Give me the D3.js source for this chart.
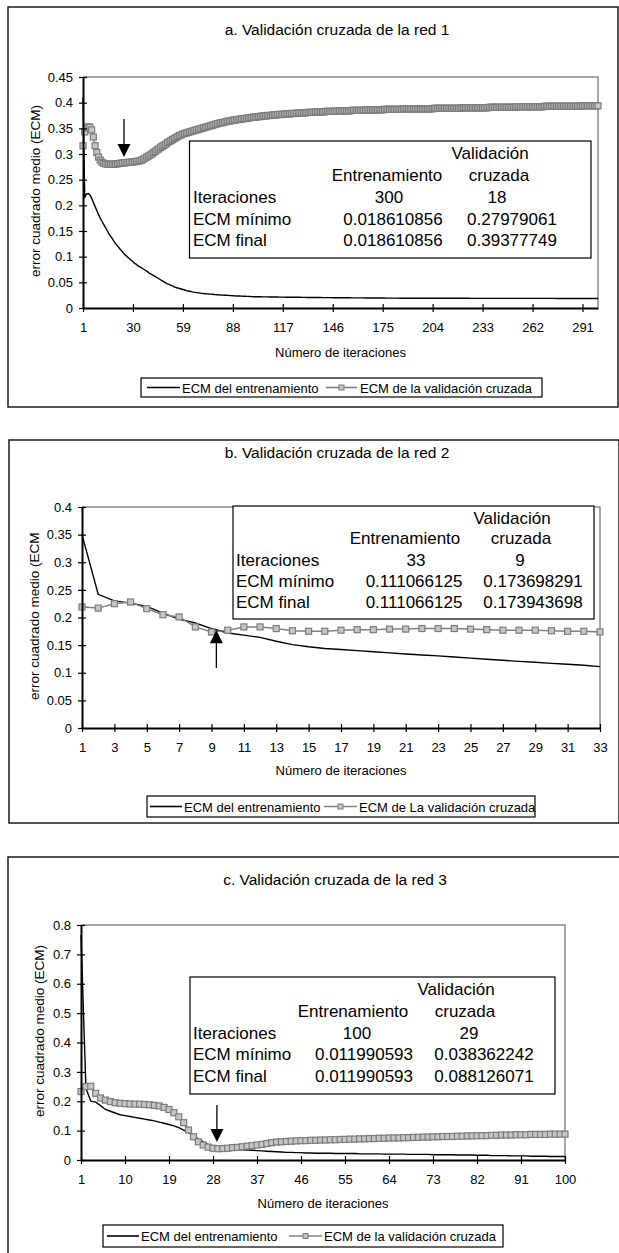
<!DOCTYPE html>
<html><head><meta charset="utf-8">
<script src="https://cdn.jsdelivr.net/npm/d3@7"></script>
<style>body{margin:0;background:#fff}svg{display:block}text{font-family:"Liberation Sans",Arial,sans-serif;fill:#000}</style>
</head><body><svg id="c" width="619" height="1253"></svg>
<script>
// ---------------- DATA ----------------
const legendTrain = "ECM del entrenamiento";
const legendValA = "ECM de la validación cruzada";
const legendValB = "ECM de La validación cruzada";
const yTitle = "error cuadrado medio (ECM)";
const xTitle = "Número de iteraciones";
const titles = ["a. Validación cruzada de la red 1", "b. Validación cruzada de la red 2", "c. Validación cruzada de la red 3"];
const rowLabels = ["Iteraciones", "ECM mínimo", "ECM final"];
const colHead1 = ["", "Validación"];
const colHead2 = ["Entrenamiento", "cruzada"];
const tableA = [["300", "18"], ["0.018610856", "0.27979061"], ["0.018610856", "0.39377749"]];
const tableB = [["33", "9"], ["0.111066125", "0.173698291"], ["0.111066125", "0.173943698"]];
const tableC = [["100", "29"], ["0.011990593", "0.038362242"], ["0.011990593", "0.088126071"]];

const yTicksA = [0, 0.05, 0.1, 0.15, 0.2, 0.25, 0.3, 0.35, 0.4, 0.45];
const xTicksA = [1, 30, 59, 88, 117, 146, 175, 204, 233, 262, 291];
const yTicksB = [0, 0.05, 0.1, 0.15, 0.2, 0.25, 0.3, 0.35, 0.4];
const xTicksB = [1, 3, 5, 7, 9, 11, 13, 15, 17, 19, 21, 23, 25, 27, 29, 31, 33];
const yTicksC = [0, 0.1, 0.2, 0.3, 0.4, 0.5, 0.6, 0.7, 0.8];
const xTicksC = [1, 10, 19, 28, 37, 46, 55, 64, 73, 82, 91, 100];

const trainA = [
0.410,0.215,0.222,0.223,0.220,0.214,0.206,0.198,0.190,0.182,
0.175,0.169,0.163,0.157,0.151,0.145,0.140,0.135,0.130,0.125,
0.121,0.117,0.113,0.109,0.105,0.102,0.099,0.096,0.093,0.090,
0.087,0.085,0.082,0.080,0.078,0.076,0.074,0.072,0.069,0.067,
0.065,0.063,0.061,0.059,0.057,0.055,0.053,0.051,0.049,0.047,
0.046,0.044,0.043,0.041,0.040,0.039,0.038,0.037,0.036,0.035,
0.034,0.033,0.0325,0.032,0.031,0.0305,0.030,0.0295,0.029,0.0285,
0.028,0.0278,0.0275,0.0272,0.027,0.0267,0.0264,0.0261,0.0258,0.0255,
0.0253,0.0251,0.0249,0.0247,0.0245,0.0243,0.0241,0.0239,0.0237,0.0235,
0.0234,0.0233,0.0231,0.0230,0.0229,0.0227,0.0226,0.0224,0.0222,0.0220,
0.0219,0.0219,0.0218,0.0218,0.0217,0.0217,0.0216,0.0216,0.0215,0.0215,
0.0214,0.0214,0.0213,0.0213,0.0212,0.0212,0.0211,0.0211,0.0210,0.0210,
0.0210,0.0209,0.0209,0.0209,0.0208,0.0208,0.0208,0.0207,0.0207,0.0207,
0.0206,0.0206,0.0206,0.0205,0.0205,0.0205,0.0204,0.0204,0.0204,0.0203,
0.0203,0.0203,0.0202,0.0202,0.0202,0.0201,0.0201,0.0201,0.0200,0.0200,
0.0200,0.0200,0.0199,0.0199,0.0199,0.0199,0.0198,0.0198,0.0198,0.0198,
0.0197,0.0197,0.0197,0.0197,0.0196,0.0196,0.0196,0.0196,0.0195,0.0195,
0.0195,0.0195,0.0194,0.0194,0.0194,0.0194,0.0193,0.0193,0.0193,0.0193,
0.0192,0.0192,0.0192,0.0192,0.0191,0.0191,0.0191,0.0191,0.0191,0.0190,
0.0190,0.0190,0.0190,0.0190,0.0190,0.0190,0.0190,0.0190,0.0190,0.0190,
0.0189,0.0189,0.0189,0.0189,0.0189,0.0189,0.0189,0.0189,0.0189,0.0189,
0.0189,0.0189,0.0189,0.0189,0.0189,0.0189,0.0189,0.0189,0.0189,0.0189,
0.0189,0.0189,0.0189,0.0189,0.0189,0.0188,0.0188,0.0188,0.0188,0.0188,
0.0188,0.0188,0.0188,0.0188,0.0188,0.0188,0.0188,0.0188,0.0188,0.0188,
0.0188,0.0188,0.0188,0.0188,0.0188,0.0188,0.0188,0.0188,0.0188,0.0188,
0.0187,0.0187,0.0187,0.0187,0.0187,0.0187,0.0187,0.0187,0.0187,0.0187,
0.0187,0.0187,0.0187,0.0187,0.0187,0.0187,0.0187,0.0187,0.0187,0.0187,
0.0187,0.0187,0.0187,0.0187,0.0187,0.0186,0.0186,0.0186,0.0186,0.0186,
0.0186,0.0186,0.0186,0.0186,0.0186,0.0186,0.0186,0.0186,0.0186,0.0186,
0.0186,0.0186,0.0186,0.0186,0.0186,0.0186,0.0186,0.0186,0.0186,0.0186];

const valA = [
0.316,0.343,0.351,0.353,0.352,0.347,0.333,0.316,0.303,0.294,
0.288,0.284,0.282,0.281,0.280,0.280,0.280,0.2798,0.280,0.2805,
0.281,0.2815,0.282,0.2825,0.283,0.283,0.2835,0.284,0.284,0.2845,
0.285,0.2855,0.286,0.287,0.288,0.290,0.292,0.294,0.296,0.298,
0.300,0.303,0.305,0.308,0.310,0.313,0.315,0.317,0.319,0.322,
0.324,0.326,0.328,0.330,0.332,0.334,0.336,0.337,0.339,0.340,
0.341,0.342,0.343,0.344,0.345,0.346,0.347,0.348,0.349,0.350,
0.351,0.352,0.353,0.354,0.355,0.356,0.357,0.358,0.359,0.360,
0.361,0.361,0.362,0.363,0.364,0.364,0.365,0.366,0.366,0.367,
0.367,0.368,0.368,0.369,0.369,0.370,0.370,0.371,0.371,0.372,
0.372,0.372,0.373,0.373,0.374,0.374,0.374,0.375,0.375,0.375,
0.376,0.376,0.376,0.377,0.377,0.377,0.377,0.378,0.378,0.378,
0.378,0.379,0.379,0.379,0.379,0.380,0.380,0.380,0.380,0.380,
0.381,0.381,0.381,0.381,0.381,0.382,0.382,0.382,0.382,0.382,
0.382,0.383,0.383,0.383,0.383,0.383,0.383,0.383,0.384,0.384,
0.384,0.384,0.384,0.384,0.384,0.384,0.385,0.385,0.385,0.385,
0.385,0.385,0.385,0.385,0.386,0.386,0.386,0.386,0.386,0.386,
0.386,0.386,0.386,0.386,0.386,0.387,0.387,0.387,0.387,0.387,
0.387,0.387,0.387,0.387,0.387,0.387,0.388,0.388,0.388,0.388,
0.388,0.388,0.388,0.388,0.388,0.388,0.388,0.388,0.388,0.388,
0.388,0.388,0.388,0.388,0.389,0.389,0.389,0.389,0.389,0.389,
0.389,0.389,0.389,0.389,0.389,0.389,0.389,0.389,0.389,0.389,
0.390,0.390,0.390,0.390,0.390,0.390,0.390,0.390,0.390,0.390,
0.390,0.390,0.390,0.390,0.390,0.390,0.391,0.391,0.391,0.391,
0.391,0.391,0.391,0.391,0.391,0.391,0.391,0.391,0.391,0.391,
0.391,0.392,0.392,0.392,0.392,0.392,0.392,0.392,0.392,0.392,
0.392,0.392,0.392,0.392,0.392,0.392,0.392,0.392,0.393,0.393,
0.393,0.393,0.393,0.393,0.393,0.393,0.393,0.393,0.393,0.393,
0.393,0.393,0.393,0.393,0.393,0.393,0.393,0.393,0.393,0.393,
0.394,0.394,0.394,0.394,0.394,0.394,0.394,0.394,0.394,0.3938];

const trainB = [0.350,0.242,0.230,0.226,0.220,0.208,0.197,0.190,0.180,0.172,
0.168,0.164,0.157,0.151,0.147,0.144,0.142,0.140,0.138,0.136,
0.134,0.132,0.1305,0.1285,0.1265,0.1245,0.1225,0.1205,0.119,0.117,
0.1155,0.1135,0.111];
const valB = [0.219,0.217,0.225,0.228,0.216,0.205,0.201,0.183,0.1737,0.177,
0.183,0.183,0.180,0.176,0.175,0.175,0.177,0.178,0.178,0.179,
0.179,0.180,0.180,0.180,0.179,0.178,0.177,0.177,0.177,0.176,
0.175,0.175,0.1739];

const trainC = [
0.766,0.245,0.200,0.197,0.185,0.172,0.166,0.160,0.154,0.151,
0.148,0.145,0.142,0.139,0.136,0.133,0.129,0.125,0.121,0.116,
0.110,0.102,0.093,0.083,0.072,0.062,0.053,0.047,0.043,0.041,
0.039,0.037,0.036,0.035,0.034,0.033,0.032,0.031,0.030,0.029,
0.028,0.027,0.026,0.026,0.025,0.025,0.024,0.024,0.023,0.023,
0.023,0.023,0.022,0.022,0.022,0.022,0.022,0.021,0.021,0.021,
0.021,0.021,0.020,0.020,0.020,0.020,0.020,0.019,0.019,0.019,
0.019,0.019,0.018,0.018,0.018,0.018,0.018,0.017,0.017,0.017,
0.017,0.016,0.016,0.016,0.015,0.015,0.015,0.015,0.014,0.014,
0.014,0.014,0.013,0.013,0.013,0.013,0.012,0.012,0.012,0.012];
const valC = [
0.233,0.250,0.251,0.227,0.211,0.204,0.199,0.195,0.193,0.192,
0.191,0.190,0.190,0.189,0.188,0.186,0.184,0.179,0.172,0.161,
0.147,0.127,0.102,0.079,0.062,0.051,0.044,0.040,0.0384,0.039,
0.040,0.042,0.043,0.045,0.047,0.049,0.051,0.053,0.056,0.059,
0.061,0.062,0.063,0.064,0.065,0.066,0.066,0.067,0.067,0.068,
0.068,0.069,0.069,0.070,0.070,0.071,0.071,0.072,0.072,0.073,
0.073,0.074,0.074,0.075,0.075,0.075,0.076,0.076,0.077,0.077,
0.078,0.078,0.079,0.079,0.080,0.080,0.080,0.081,0.081,0.082,
0.082,0.083,0.083,0.083,0.084,0.084,0.085,0.085,0.085,0.086,
0.086,0.086,0.087,0.087,0.087,0.087,0.088,0.088,0.088,0.0881];

// ---------------- LAYOUT ----------------
const FONT = '"Liberation Sans", Arial, sans-serif';
const panels = [
  { title: titles[0], train: trainA, val: valA, yMax: 0.45, yTicks: yTicksA, xTicks: xTicksA, table: tableA, legVal: legendValA,
    frame: [8, 7, 610, 400], plot: { x0: 83, x1: 598, y0: 77, y1: 308 }, titleX: 337, titleY: 35,
    yTitleX: 35, yTitleY: 191, xTitleY: 356.5, clipYTitle: null,
    box: [189.5, 141, 401.5, 117], rowY: [159, 181, 203, 224.5, 246], lblX: 193,
    c2: { h: 387, it: 389, num: 393 }, c3: { h1: 490, h2: 499, it: 497, num: 512 },
    arrow: { cat: 24.8, from: 0.368, to: 0.294, dir: 'down' },
    leg: { x: 141, y: 378, w: 401, h: 19, s1: [147, 180], t1: 182, s2: [326, 357], t2: 360, by: 392.5 } },
  { title: titles[1], train: trainB, val: valB, yMax: 0.4, yTicks: yTicksB, xTicks: xTicksB, table: tableB, legVal: legendValB,
    frame: [9, 440, 610, 383], plot: { x0: 82, x1: 600, y0: 507, y1: 728 }, titleX: 337, titleY: 458,
    yTitleX: 34, yTitleY: 614, xTitleY: 774.5, clipYTitle: 532,
    box: [233, 506, 361, 113], rowY: [524, 544, 565.5, 587, 608], lblX: 236,
    c2: { h: 405, it: 416, num: 414 }, c3: { h1: 512, h2: 521, it: 520, num: 533 },
    arrow: { cat: 9.3, from: 0.1086, to: 0.177, dir: 'up' },
    leg: { x: 147, y: 796, w: 388, h: 21, s1: [150, 182], t1: 184, s2: [324, 357], t2: 359, by: 811.5 } },
  { title: titles[2], train: trainC, val: valC, yMax: 0.8, yTicks: yTicksC, xTicks: xTicksC, table: tableC, legVal: legendValA,
    frame: [8, 857, 620, 420], plot: { x0: 81, x1: 565, y0: 925, y1: 1160 }, titleX: 335, titleY: 885,
    yTitleX: 39, yTitleY: 1031, xTitleY: 1207.5, clipYTitle: null,
    box: [190, 977, 365, 117], rowY: [995, 1017, 1038.5, 1060, 1082], lblX: 193,
    c2: { h: 353, it: 357, num: 364 }, c3: { h1: 456, h2: 465, it: 469, num: 484 },
    arrow: { cat: 28.8, from: 0.187, to: 0.061, dir: 'down' },
    leg: { x: 103, y: 1225, w: 400, h: 22, s1: [107, 139], t1: 141, s2: [289, 322], t2: 324, by: 1240.5 } }
];

const MS = 6; // marker size
const svg = d3.select('#c');
svg.append('rect').attr('width', 619).attr('height', 1253).attr('fill', '#fff');
const defs = svg.append('defs');

function txt(g, x, y, s, size, anchor) {
  return g.append('text').attr('x', x).attr('y', y).attr('font-size', size)
    .attr('font-family', FONT).attr('text-anchor', anchor || 'start').text(s);
}

panels.forEach((p, pi) => {
  const g = svg.append('g');
  g.append('rect').attr('x', p.frame[0]).attr('y', p.frame[1]).attr('width', p.frame[2]).attr('height', p.frame[3])
    .attr('fill', 'none').attr('stroke', '#1a1a1a').attr('stroke-width', 1.5);

  const x = d3.scaleLinear().domain([1, p.train.length]).range([p.plot.x0, p.plot.x1]);
  const y = d3.scaleLinear().domain([0, p.yMax]).range([p.plot.y1, p.plot.y0]);

  g.append('path').attr('d', `M${p.plot.x0},${p.plot.y0}H${p.plot.x1}V${p.plot.y1}`)
    .attr('fill', 'none').attr('stroke', '#8a8a8a').attr('stroke-width', 1.5);

  txt(g, p.titleX, p.titleY, p.title, 15.5, 'middle');

  const line = d3.line().x((d, i) => x(i + 1)).y(d => y(d));
  g.append('path').datum(p.train).attr('d', line).attr('fill', 'none').attr('stroke', '#000').attr('stroke-width', 1.4);
  g.append('path').datum(p.val).attr('d', line).attr('fill', 'none').attr('stroke', '#808080').attr('stroke-width', 1.5);
  g.append('g').selectAll('rect').data(p.val).join('rect')
    .attr('x', (d, i) => x(i + 1) - MS / 2).attr('y', d => y(d) - MS / 2).attr('width', MS).attr('height', MS)
    .attr('fill', '#c6c6c6').attr('stroke', '#7c7c7c').attr('stroke-width', 1.2);

  g.append('rect').attr('x', p.box[0]).attr('y', p.box[1]).attr('width', p.box[2]).attr('height', p.box[3])
    .attr('fill', '#fff').attr('stroke', '#000').attr('stroke-width', 1.2);
  const TS = 17;
  txt(g, p.c3.h1, p.rowY[0], colHead1[1], TS, 'middle');
  txt(g, p.c2.h, p.rowY[1], colHead2[0], TS, 'middle');
  txt(g, p.c3.h2, p.rowY[1], colHead2[1], TS, 'middle');
  rowLabels.forEach((lab, r) => {
    const yy = p.rowY[r + 2];
    txt(g, p.lblX, yy, lab, TS, 'start');
    txt(g, r === 0 ? p.c2.it : p.c2.num, yy, p.table[r][0], TS, 'middle');
    txt(g, r === 0 ? p.c3.it : p.c3.num, yy, p.table[r][1], TS, 'middle');
  });

  const ya = d3.axisLeft(y).tickValues(p.yTicks).tickSize(4).tickPadding(6).tickSizeOuter(0)
    .tickFormat(d => String(+d.toFixed(2)));
  const gy = g.append('g').attr('transform', `translate(${p.plot.x0},0)`).call(ya);
  gy.attr('font-size', 13).attr('font-family', FONT);
  gy.selectAll('.tick line').attr('x1', 4).attr('stroke', '#000').attr('stroke-width', 1.2);
  gy.select('.domain').attr('stroke', '#000').attr('stroke-width', 2);
  gy.selectAll('text').attr('fill', '#000');

  const xa = d3.axisBottom(x).tickValues(p.xTicks).tickSize(4).tickPadding(11).tickSizeOuter(0);
  const gx = g.append('g').attr('transform', `translate(0,${p.plot.y1})`).call(xa);
  gx.attr('font-size', 13).attr('font-family', FONT);
  gx.selectAll('.tick line').attr('y1', -4).attr('stroke', '#000').attr('stroke-width', 1.2);
  gx.select('.domain').attr('stroke', '#000').attr('stroke-width', 2);
  gx.selectAll('text').attr('fill', '#000');

  txt(g, (p.plot.x0 + p.plot.x1) / 2, p.xTitleY, xTitle, 13, 'middle');
  const yt = g.append('g');
  if (p.clipYTitle) {
    const id = 'clipY' + pi;
    defs.append('clipPath').attr('id', id).append('rect')
      .attr('x', 0).attr('y', p.clipYTitle).attr('width', 70).attr('height', 400);
    yt.attr('clip-path', `url(#${id})`);
  }
  yt.append('text').attr('transform', `translate(${p.yTitleX},${p.yTitleY}) rotate(-90)`)
    .attr('text-anchor', 'middle').attr('dy', '0.35em').attr('font-size', 13.5).attr('font-family', FONT).text(yTitle);

  const ax = x(p.arrow.cat), yFrom = y(p.arrow.from), yTo = y(p.arrow.to);
  const hs = p.arrow.dir === 'down' ? -1 : 1;
  const headLen = 13, headW = 6.5;
  g.append('line').attr('x1', ax).attr('x2', ax).attr('y1', yFrom).attr('y2', yTo + hs * headLen)
    .attr('stroke', '#000').attr('stroke-width', 1.3);
  g.append('path').attr('d', `M${ax},${yTo}L${ax - headW},${yTo + hs * headLen}L${ax + headW},${yTo + hs * headLen}Z`)
    .attr('fill', '#000');

  const L = p.leg;
  g.append('rect').attr('x', L.x).attr('y', L.y).attr('width', L.w).attr('height', L.h)
    .attr('fill', '#fff').attr('stroke', '#000').attr('stroke-width', 1.2);
  const ly = L.y + L.h / 2;
  g.append('line').attr('x1', L.s1[0]).attr('x2', L.s1[1]).attr('y1', ly).attr('y2', ly).attr('stroke', '#000').attr('stroke-width', 1.6);
  txt(g, L.t1, L.by, legendTrain, 13, 'start');
  g.append('line').attr('x1', L.s2[0]).attr('x2', L.s2[1]).attr('y1', ly).attr('y2', ly).attr('stroke', '#808080').attr('stroke-width', 1.6);
  const mx = (L.s2[0] + L.s2[1]) / 2;
  g.append('rect').attr('x', mx - 2.5).attr('y', ly - 2.5).attr('width', 5).attr('height', 5)
    .attr('fill', '#c6c6c6').attr('stroke', '#7c7c7c').attr('stroke-width', 1);
  txt(g, L.t2, L.by, p.legVal, 13, 'start');
});
</script></body></html>
